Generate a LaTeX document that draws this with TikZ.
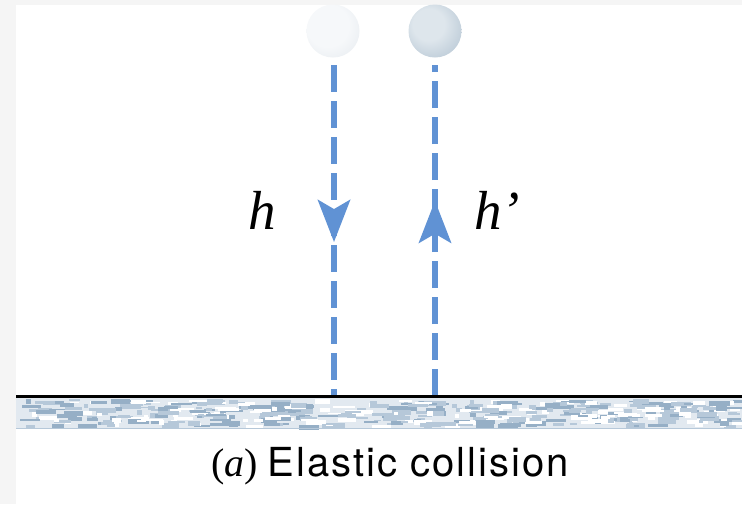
\documentclass[tikz,border=0pt]{standalone}
\usepackage{fontspec}
\setmainfont{Liberation Serif}
\newfontfamily\capfont[LetterSpace=5]{TeX Gyre Heros}
\usetikzlibrary{arrows.meta,positioning,decorations.markings}
\definecolor{pathblue}{RGB}{96,146,212}
\definecolor{groundbase}{RGB}{226,233,240}
\definecolor{groundmid}{RGB}{182,200,217}
\definecolor{grounddark}{RGB}{150,175,198}
\definecolor{margingray}{RGB}{245,245,245}
\definecolor{lightc}{RGB}{246,248,250}
\definecolor{lightm}{RGB}{228,233,238}
\definecolor{lighte}{RGB}{196,207,218}
\definecolor{darkc}{RGB}{222,230,236}
\definecolor{darkm}{RGB}{176,193,208}
\definecolor{darke}{RGB}{128,148,168}
\pgfdeclareradialshading{lightball}{\pgfpoint{-8bp}{8bp}}{%
  color(0bp)=(lightc); color(20bp)=(lightc); color(40bp)=(lightm); color(55bp)=(lighte)}
\pgfdeclareradialshading{darkball}{\pgfpoint{-8bp}{8bp}}{%
  color(0bp)=(darkc); color(15bp)=(darkc); color(40bp)=(darkm); color(60bp)=(darke)}

\begin{document}
\begin{tikzpicture}[
  x=1pt, y=-1pt,
  ball/.style={circle, inner sep=0pt, minimum size=53pt},
  path line/.style={pathblue, line width=6.5pt, dash pattern=on 27pt off 9pt},
  mid arrow/.style={postaction={decorate}, decoration={markings,
    mark=at position #1 with {\arrow{Stealth[length=42pt, width=32pt, inset=9pt, pathblue]}}}},
  label/.style={font=\fontsize{55}{55}\selectfont\itshape}
]
% page and margins
\fill[margingray] (0,0) rectangle (742,504);
\fill[white] (16,5) rectangle (742,504);
\useasboundingbox (0,0) rectangle (742,504);

% balls
\node[ball, shading=lightball] (before) at (333,31) {};
\node[ball, shading=darkball] (after) at (435,31) {};

% ground
\coordinate (g1) at (16,396);
\coordinate (g2) at (742,396);
\coordinate (hitL) at (334,396);
\coordinate (hitR) at (435,396);
\fill[groundbase] (16,398) rectangle (742,428);
\pgfmathsetseed{42}
\foreach \i in {1,...,460}{
  \pgfmathsetmacro{\gx}{16+rnd*720}
  \pgfmathsetmacro{\gy}{399+rnd*26}
  \pgfmathsetmacro{\gw}{4+rnd*18}
  \pgfmathsetmacro{\gh}{1.5+rnd*3.5}
  \pgfmathsetmacro{\gc}{rnd}
  \ifdim\gc pt<0.35pt
    \fill[grounddark] (\gx,\gy) rectangle ++(\gw,\gh);
  \else\ifdim\gc pt<0.7pt
    \fill[groundmid] (\gx,\gy) rectangle ++(\gw,\gh);
  \else
    \fill[white] (\gx,\gy) rectangle ++(\gw,\gh);
  \fi\fi
}
\draw[line width=1pt, groundmid] (16,428) -- (742,428);

% fall and bounce
\draw[path line, mid arrow=0.535] (334,65) -- (hitL);
\draw[path line, mid arrow=0.59] (hitR) -- (435,65);
\draw[line width=3pt] (g1) -- (g2);

% heights
\node[label] (h) at (262,210) {h};
\node[label] (hp) at (497,210) {h’};

% caption
\node[font=\fontsize{40}{40}\selectfont, anchor=base west, inner sep=0pt] (cap) at (211,476)
  {(\textit{a}) {\capfont Elastic collision}};
\end{tikzpicture}
\end{document}
